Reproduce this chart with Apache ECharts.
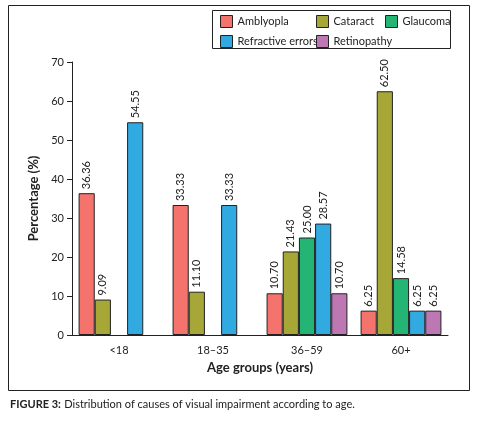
<!DOCTYPE html><html><head><meta charset="utf-8">
<script src="https://cdn.jsdelivr.net/npm/echarts@6/dist/echarts.min.js"></script>
<style>html,body{margin:0;padding:0;background:#fff}#c{width:478px;height:423px}</style></head><body><div id="c"></div>
<script>
const categories=['<18','18–35','36–59','60+'];
const amblyopia=[36.36,33.33,10.70,6.25];
const cataract=[9.09,11.10,21.43,62.50];
const glaucoma=[null,null,25.00,14.58];
const refractive=[54.55,33.33,28.57,6.25];
const retinopathy=[null,null,10.70,6.25];
const yTicks=[0,10,20,30,40,50,60,70];
const F='Lato';
const names=['Amblyopla','Cataract','Glaucoma','Refractive errors','Retinopathy'];
const colors=['#F4736C','#A6A736','#24B574','#31A9E1','#BD78B4'];
const datas=[amblyopia,cataract,glaucoma,refractive,retinopathy];
const chart=echarts.init(document.getElementById('c'));
const leg=(x,y,d)=>({left:x,top:y,orient:'vertical',data:d,itemWidth:12,itemHeight:12,itemGap:7,icon:'rect',
 itemStyle:{borderColor:'#222',borderWidth:1},textStyle:{fontFamily:F,fontSize:11,color:'#222'},selectedMode:false,padding:0});
chart.setOption({
 animation:false,
 textStyle:{fontFamily:F},
 legend:[leg(220,15,[names[0],names[3]]),leg(316,15,[names[1],names[4]]),leg(385,15,[names[2]])],
 graphic:[
  {type:'rect',shape:{x:8.5,y:5.5,width:461,height:385},style:{fill:'none',stroke:'#222',lineWidth:1}},
  {type:'rect',shape:{x:212.5,y:10.5,width:238,height:38},style:{fill:'none',stroke:'#222',lineWidth:1}},
  {type:'text',left:10,top:398,style:{rich:{b:{fontWeight:'bold',fontFamily:F,fontSize:11,fill:'#222'},n:{fontFamily:F,fontSize:11,fill:'#222'}},
    text:'{b|FIGURE 3:} {n|Distribution of causes of visual impairment according to age.}'}}
 ],
 grid:{left:72,right:30,top:62,bottom:88},
 xAxis:{type:'category',data:categories,name:'Age groups (years)',nameLocation:'middle',nameGap:26,
  nameTextStyle:{fontWeight:'bold',fontSize:13,color:'#222'},
  axisLine:{lineStyle:{color:'#222'}},axisTick:{alignWithLabel:false,lineStyle:{color:'#222'}},
  axisLabel:{color:'#222',fontSize:11,margin:10}},
 yAxis:{type:'value',min:0,max:70,interval:10,name:'Percentage (%)',nameLocation:'middle',nameGap:32,
  nameTextStyle:{fontWeight:'bold',fontSize:13,color:'#222'},
  axisLine:{show:true,lineStyle:{color:'#222'}},axisTick:{show:true,lineStyle:{color:'#222'}},
  axisLabel:{color:'#222',fontSize:11,formatter:v=>yTicks.includes(v)?String(v):''},splitLine:{show:false}},
 series:datas.map((d,i)=>({name:names[i],type:'bar',data:d,barGap:'0%',barCategoryGap:'14%',
  itemStyle:{color:colors[i],borderColor:'#222',borderWidth:1},
  label:{show:true,position:'top',rotate:90,align:'left',verticalAlign:'middle',distance:4,fontSize:11,color:'#222',
   formatter:p=>p.value==null?'':p.value.toFixed(2)}}))
});
</script></body></html>
